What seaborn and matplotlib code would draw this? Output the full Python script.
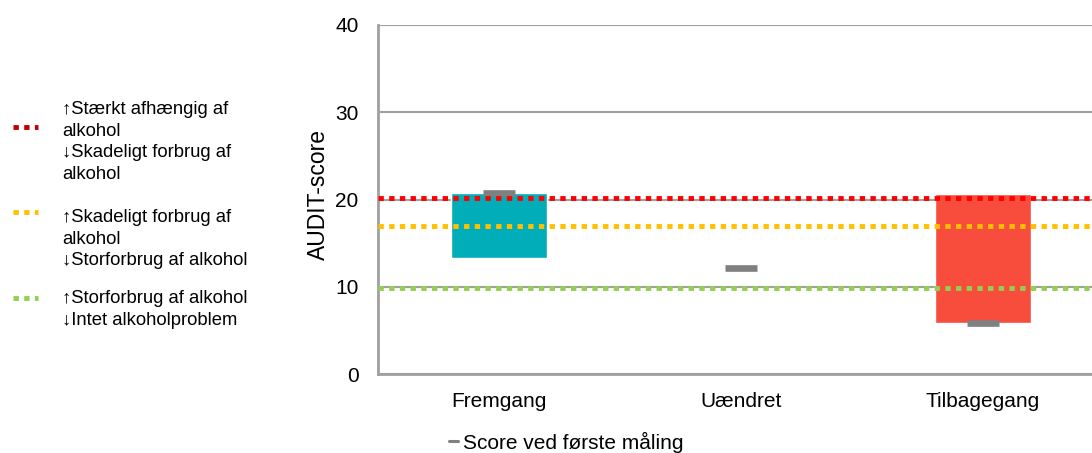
import matplotlib
matplotlib.use("Agg")
import matplotlib.pyplot as plt
from matplotlib.lines import Line2D
import seaborn as sns
import pandas as pd

# data
categories = ["Fremgang", "Uændret", "Tilbagegang"]
first_score = [20.8, 12.2, 5.8]
last_score = [13.3, 12.2, 20.6]
bar_colors = ["#00ADB9", "#F84D3D", "#F84D3D"]

threshold_values = [20.15, 17.0, 9.85]
threshold_colors = ["#FF0000", "#FFC000", "#92D050"]
legend_colors = ["#C00000", "#FFC000", "#92D050"]
threshold_labels = [
    "↑Stærkt afhængig af\nalkohol\n↓Skadeligt forbrug af\nalkohol",
    "↑Skadeligt forbrug af\nalkohol\n↓Storforbrug af alkohol",
    "↑Storforbrug af alkohol\n↓Intet alkoholproblem",
]
yticks = [0, 10, 20, 30, 40]

sns.set_style("white")
plt.rcParams["font.family"] = ["Liberation Sans", "DejaVu Sans"]
for k in ["text.color", "axes.labelcolor", "xtick.color", "ytick.color"]:
    plt.rcParams[k] = "black"

fig = plt.figure(figsize=(10.92, 4.53), dpi=100)
ax = fig.add_axes([378 / 1092, 1 - 374 / 453, 726 / 1092, 349 / 453])

df = pd.DataFrame({"cat": categories, "first": first_score, "last": last_score})
df["low"] = df[["first", "last"]].min(axis=1)
df["high"] = df[["first", "last"]].max(axis=1)
x = list(range(len(categories)))

ax.bar(x, df["high"] - df["low"], bottom=df["low"], width=0.4,
       color=bar_colors, zorder=2)

sns.scatterplot(x=x, y=df["first"], marker="_", s=560, linewidth=4.8,
                color="#808080", ax=ax, zorder=3, legend=False)

dots = (0, (1.1, 1.1))
for v, c in zip(threshold_values, threshold_colors):
    ax.axhline(v, color=c, lw=3.5, linestyle=dots,
               dash_capstyle="butt", zorder=4)

ax.set_xlim(-0.5, 2.5)
ax.set_ylim(0, 40)
ax.set_yticks(yticks)
ax.set_xticks(x)
ax.set_xticklabels(categories)
ax.tick_params(axis="both", labelsize=15, length=0)
ax.tick_params(axis="y", pad=14)
ax.tick_params(axis="x", pad=13)
ax.set_xlabel("")
ax.set_ylabel("AUDIT-score", fontsize=16.5)
ax.yaxis.set_label_coords(-0.066, 0.513)
ax.yaxis.grid(True, color="#A0A0A0", lw=1.5, zorder=1)
for s in ["top", "right"]:
    ax.spines[s].set_visible(False)
for s in ["left", "bottom"]:
    ax.spines[s].set_color("#A0A0A0")
    ax.spines[s].set_linewidth(2)

# left legend for threshold lines
marker_y = [127, 212, 298]
text_y = [101, 209, 290]
for lab, c, my, ty in zip(threshold_labels, legend_colors, marker_y, text_y):
    fig.add_artist(Line2D([13 / 1092, 38 / 1092], [1 - my / 453, 1 - my / 453],
                          color=c, lw=3.5, linestyle=dots,
                          dash_capstyle="butt"))
    fig.text(62 / 1092, 1 - ty / 453, lab, fontsize=13.3, va="top",
             linespacing=1.35)

# bottom legend
fig.legend(handles=[Line2D([0], [0], color="#808080", lw=2.2)],
           labels=["Score ved første måling"], loc="center",
           bbox_to_anchor=(566 / 1092, 1 - 442 / 453), frameon=False,
           fontsize=15, handlelength=0.45, handletextpad=0.2)

fig.savefig("out.png", dpi=100)
